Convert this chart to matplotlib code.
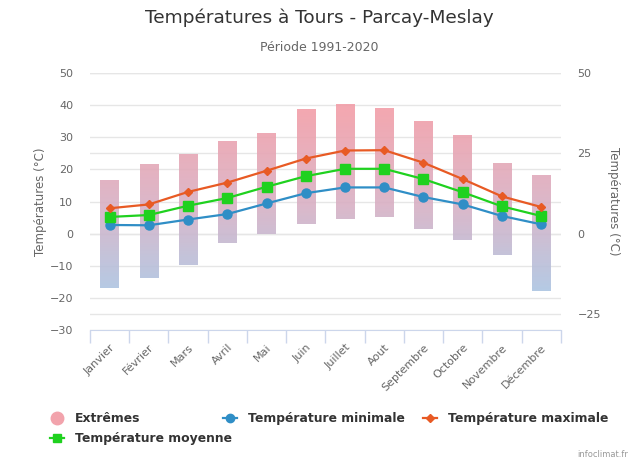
import numpy as np
import matplotlib
matplotlib.use('Agg')
import matplotlib.pyplot as plt
from matplotlib.colors import LinearSegmentedColormap, Normalize
from matplotlib.lines import Line2D

months = ['Janvier', 'Février', 'Mars', 'Avril', 'Mai', 'Juin', 'Juillet',
          'Aout', 'Septembre', 'Octobre', 'Novembre', 'Décembre']
extreme_max = [16.6, 21.8, 24.9, 28.9, 31.5, 38.7, 40.4, 39.3, 35.1, 30.6, 22.0, 18.2]
extreme_min = [-16.9, -13.7, -9.7, -2.9, -0.2, 3.0, 4.7, 5.1, 1.3, -1.9, -6.6, -17.8]
t_max = [7.9, 9.1, 13.0, 15.9, 19.6, 23.4, 25.9, 26.0, 22.1, 17.0, 11.6, 8.3]
t_moy = [5.2, 5.8, 8.7, 11.1, 14.6, 17.9, 20.2, 20.2, 17.0, 12.9, 8.5, 5.5]
t_min = [2.7, 2.6, 4.4, 6.1, 9.4, 12.6, 14.4, 14.4, 11.4, 9.1, 5.5, 2.9]

grey = '#666666'
plt.rcParams['font.family'] = ['DejaVu Sans']

fig = plt.figure(figsize=(6.38, 4.66), dpi=100)
ax = fig.add_axes([0.141, 0.292, 0.738, 0.551])
ax2 = ax.twinx()
# right axis (grid only) behind the main one
ax.set_zorder(2)
ax2.set_zorder(1)
ax.patch.set_visible(False)

x = np.arange(len(months))
ax.set_ylim(-30, 50)
ax2.set_ylim(-30, 50)

ax.set_yticks(range(-30, 51, 10))
ax2.set_yticks([-25, 0, 25, 50])
for a in (ax, ax2):
    a.grid(axis='y', color='#e6e6e6', linewidth=1)
    a.set_axisbelow(True)
    for s in a.spines.values():
        s.set_visible(False)
    a.tick_params(axis='y', length=0, colors=grey, labelsize=8, pad=12)
ax.spines['bottom'].set_visible(True)
ax.spines['bottom'].set_color('#ccd6eb')

# extremes: bars with vertical gradient
cmap = LinearSegmentedColormap.from_list('ext', ['#a9c6e4', '#d8b0c4', '#f29ea8'])
norm = Normalize(-20, 38)
grad = np.linspace(-30, 50, 300).reshape(-1, 1)
heights = np.array(extreme_max) - np.array(extreme_min)
bars = ax.bar(x, heights, bottom=extreme_min, width=0.47, color='none', zorder=2)
for b in bars:
    x0, w = b.get_x(), b.get_width()
    im = ax.imshow(grad, cmap=cmap, norm=norm, origin='lower', aspect='auto',
                   extent=(x0, x0 + w, -30, 50), alpha=0.9, zorder=2)
    im.set_clip_path(b)
ax.set_xlim(-0.5, len(months) - 0.5)
ax.set_ylim(-30, 50)

c_min, c_moy, c_max = '#2f8ec6', '#1fd11f', '#e85a24'
ax.plot(x, t_min, color=c_min, lw=1.6, marker='o', ms=6.5, zorder=4)
ax.plot(x, t_moy, color=c_moy, lw=1.6, marker='s', ms=6.5, zorder=4)
ax.plot(x, t_max, color=c_max, lw=1.6, marker='D', ms=4, zorder=4)

# category ticks between months
ax.set_xticks(np.arange(-0.5, len(months)))
ax.tick_params(axis='x', which='major', direction='out', length=9, width=1,
               color='#ccd6eb', labelbottom=False)
ax.set_xticks(x, minor=True)
ax.set_xticklabels(months, minor=True, rotation=45, ha='right',
                   rotation_mode='anchor', fontsize=8, color=grey)
ax.tick_params(axis='x', which='minor', length=0, pad=9)
ax2.tick_params(axis='x', which='both', length=0, labelbottom=False)

ax.set_ylabel('Températures (°C)', color=grey, fontsize=8.5, labelpad=2)
ax2.set_ylabel('Températures (°C)', color=grey, fontsize=8.5, rotation=270, labelpad=14)

fig.text(0.5, 0.962, 'Températures à Tours - Parcay-Meslay', ha='center', va='center',
         fontsize=13.3, color='#333333')
fig.text(0.5, 0.897, 'Période 1991-2020', ha='center', va='center', fontsize=9, color=grey)

# legend, one column at a time (highcharts-like placement)
h_ext = Line2D([], [], ls='none', marker='o', ms=9, color='#f2a3ac')
h_moy = Line2D([], [], color=c_moy, lw=1.6, marker='s', ms=6)
h_min = Line2D([], [], color=c_min, lw=1.6, marker='o', ms=6)
h_max = Line2D([], [], color=c_max, lw=1.6, marker='D', ms=4)
leg_kw = dict(loc='upper left', frameon=False, prop={'weight': 'bold', 'size': 8.9},
              handlelength=1.15, handletextpad=0.85, labelspacing=0.6,
              labelcolor='#333333', borderaxespad=0, borderpad=0)
fig.legend([h_ext, h_moy], ['Extrêmes', 'Température moyenne'],
           bbox_to_anchor=(0.0784, 0.116), **leg_kw)
fig.legend([h_min], ['Température minimale'], bbox_to_anchor=(0.3495, 0.116), **leg_kw)
fig.legend([h_max], ['Température maximale'], bbox_to_anchor=(0.663, 0.116), **leg_kw)

fig.text(0.985, 0.015, 'infoclimat.fr', ha='right', va='bottom', fontsize=6, color='#999999')

fig.savefig('out.png', dpi=100)
